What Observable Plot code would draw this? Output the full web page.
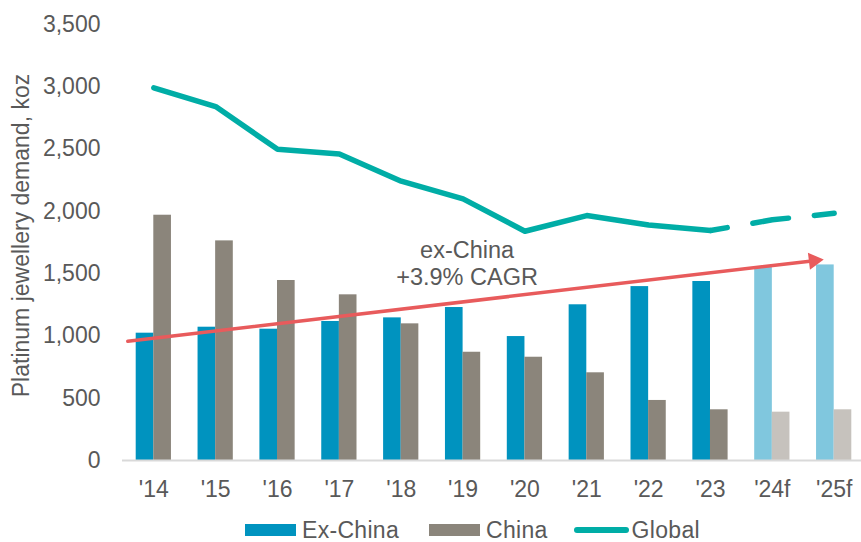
<!DOCTYPE html>
<html>
<head>
<meta charset="utf-8">
<script src="https://cdn.jsdelivr.net/npm/d3@7"></script>
<script src="https://cdn.jsdelivr.net/npm/@observablehq/plot@0.6"></script>
<style>
  html, body { margin: 0; padding: 0; background: #fff; }
  body { width: 861px; height: 542px; overflow: hidden; position: relative;
         font-family: "Liberation Sans", Arial, sans-serif; }
  #legend { position: absolute; top: 518px; left: 245px; height: 24px;
            display: flex; align-items: center; font-size: 23px; letter-spacing: 0.3px; color: #595959; }
  #legend .item { display: flex; align-items: center; }
  #legend .sw { display: inline-block; width: 51px; height: 12px; margin-right: 6px; }
  #legend .ln { display: inline-block; width: 55px; height: 6px; border-radius: 3px; margin-right: 3px; }
</style>
</head>
<body>
<div id="chart"></div>
<div id="legend"></div>
<script>
// ---- data ----
const years = ["'14", "'15", "'16", "'17", "'18", "'19", "'20", "'21", "'22", "'23", "'24f", "'25f"];
const exChina = [1022, 1070, 1054, 1116, 1145, 1228, 995, 1250, 1396, 1437, 1555, 1570];
const china = [1969, 1763, 1445, 1330, 1097, 869, 829, 704, 482, 407, 388, 407];
const global = [2992, 2841, 2498, 2461, 2242, 2100, 1840, 1966, 1891, 1846, 1932, 1984];
const yTicks = [0, 500, 1000, 1500, 2000, 2500, 3000, 3500];
const seriesNames = ["Ex-China", "China", "Global"];
const yLabel = "Platinum jewellery demand, koz";
const trendYears = ["'14", "'25f"];
const trendValues = [982, 1623];
const annotationLines = ["ex-China", "+3.9% CAGR"];
const annotationYear = "'19";
const annotationValue = 1585;

// ---- styles ----
const C = {
  blue: "#0093BF", blueF: "#80C7DE",
  gray: "#8B857B", grayF: "#C6C2BD",
  teal: "#00ADA6", red: "#E85B5C", text: "#595959", base: "#D9D9D9"
};

const rows = years.map((year, i) => ({
  year, exChina: exChina[i], china: china[i], global: global[i], forecast: year.endsWith("f")
}));
const lastActual = rows.filter(d => !d.forecast).length - 1;
const solidRows = rows.slice(0, lastActual + 1);
const dashedRows = rows.slice(lastActual);
const trend = [{x1: trendYears[0], x2: trendYears[1], y1: trendValues[0], y2: trendValues[1]}];
const slopeDeg = 6.7;

const plot = Plot.plot({
  width: 861,
  height: 514,
  marginLeft: 122,
  marginRight: 0,
  marginTop: 24,
  marginBottom: 54,
  style: {fontFamily: "'Liberation Sans', Arial, sans-serif", fontSize: "23px", color: C.text, background: "white"},
  x: {type: "band", domain: years, range: [122.4, 864.6], padding: 0, round: false, label: null, tickSize: 0, tickPadding: 20},
  y: {domain: [0, 3500], ticks: yTicks, tickFormat: d3.format(","), label: null, tickSize: 0, tickPadding: 22},
  marks: [
    Plot.barY(rows, {x: "year", y: "exChina", fill: d => d.forecast ? C.blueF : C.blue, insetLeft: 13.3, insetRight: 30.9}),
    Plot.barY(rows, {x: "year", y: "china", fill: d => d.forecast ? C.grayF : C.gray, insetLeft: 30.9, insetRight: 13.3}),
    Plot.ruleY([0], {stroke: C.base, strokeWidth: 2}),
    Plot.lineY(solidRows, {x: "year", y: "global", stroke: C.teal, strokeWidth: 5.5, strokeLinecap: "round", strokeLinejoin: "round"}),
    Plot.lineY(dashedRows, {x: "year", y: "global", stroke: C.teal, strokeWidth: 5.5, strokeLinecap: "round", strokeLinejoin: "round", strokeDasharray: "36,26", strokeDashoffset: 19}),
    Plot.arrow(trend, {x1: "x1", x2: "x2", y1: "y1", y2: "y2", stroke: C.red, strokeWidth: 3.5, headLength: 0, insetStart: -26.2, insetEnd: 18}),
    Plot.dot(trend, {x: "x2", y: "y2", symbol: "triangle", r: 6.4, fill: C.red, stroke: "none", rotate: 90 - slopeDeg, dx: -20.3, dy: 2.4}),
    Plot.text([annotationLines.join("\n")], {x: () => annotationYear, y: () => annotationValue, text: d => d, fill: C.text, fontSize: 23.5, lineHeight: 1.12, dx: 4, lineAnchor: "middle"}),
    Plot.text([yLabel], {frameAnchor: "left", textAnchor: "middle", text: d => d, rotate: -90, dx: -101, dy: -7, fill: C.text, fontSize: 23})
  ]
});
document.getElementById("chart").appendChild(plot);

// ---- legend ----
const legend = document.getElementById("legend");
const legendStyles = [
  {kind: "sw", color: C.blue, gapAfter: 30},
  {kind: "sw", color: C.gray, gapAfter: 26},
  {kind: "ln", color: C.teal, gapAfter: 0}
];
seriesNames.forEach((name, i) => {
  const s = legendStyles[i];
  const item = document.createElement("span");
  item.className = "item";
  item.style.marginRight = s.gapAfter + "px";
  const sw = document.createElement("span");
  sw.className = s.kind;
  sw.style.background = s.color;
  item.appendChild(sw);
  item.appendChild(document.createTextNode(name));
  legend.appendChild(item);
});
</script>
</body>
</html>
